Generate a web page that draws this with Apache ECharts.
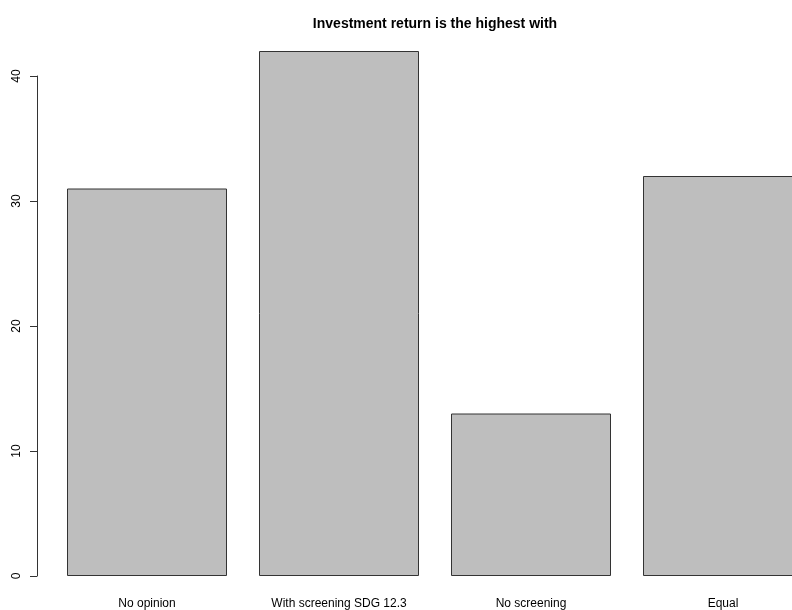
<!DOCTYPE html>
<html>
<head>
<meta charset="utf-8">
<script src="https://cdn.jsdelivr.net/npm/echarts@6/dist/echarts.min.js"></script>
<style>html,body{margin:0;padding:0;background:#fff;}#c{width:792px;height:610px;}</style>
</head>
<body>
<div id="c"></div>
<script>
var title = 'Investment return is the highest with';
var categories = ['No opinion', 'With screening SDG 12.3', 'No screening', 'Equal'];
var values = [31, 42, 13, 32];
var yTicks = [0, 10, 20, 30, 40];

// R barplot layout: bar width 1, space 0.2 -> centers at 0.7, 1.9, 3.1, 4.3
var centers = categories.map(function (c, i) { return 0.7 + 1.2 * i; });
var barData = values.map(function (v, i) { return [centers[i], v]; });

var chart = echarts.init(document.getElementById('c'), null, {renderer: 'canvas'});
chart.setOption({
  animation: false,
  backgroundColor: '#ffffff',
  title: {
    text: title,
    left: 430, top: 12, textAlign: 'center',
    textStyle: {fontFamily: 'Liberation Sans, Arial, sans-serif', fontSize: 14, fontWeight: 'bold', color: '#000'}
  },
  grid: {left: 51, top: 76, right: 0, bottom: 33, containLabel: false},
  xAxis: {
    type: 'value', min: 0.1, max: 0.1 + 741 / 160,
    splitLine: {show: false},
    axisLine: {show: false}, axisTick: {show: false},
    axisLabel: {
      customValues: centers,
      margin: 22, fontFamily: 'Liberation Sans, Arial, sans-serif', fontSize: 12, color: '#000',
      formatter: function (v) {
        for (var i = 0; i < centers.length; i++) { if (Math.abs(centers[i] - v) < 1e-6) return categories[i]; }
        return '';
      }
    }
  },
  yAxis: {
    type: 'value', min: yTicks[0], max: yTicks[yTicks.length - 1], interval: 10,
    offset: 14,
    splitLine: {show: false},
    axisLine: {show: true, lineStyle: {color: '#333', width: 1}},
    axisTick: {show: true, length: 7, lineStyle: {color: '#333'}},
    axisLabel: {rotate: 90, margin: 14, fontFamily: 'Liberation Sans, Arial, sans-serif', fontSize: 12, color: '#000'}
  },
  series: [{
    type: 'bar', data: barData, clip: false,
    barWidth: 160,
    itemStyle: {color: '#bebebe', borderColor: '#333333', borderWidth: 1}
  }]
});
</script>
</body>
</html>
